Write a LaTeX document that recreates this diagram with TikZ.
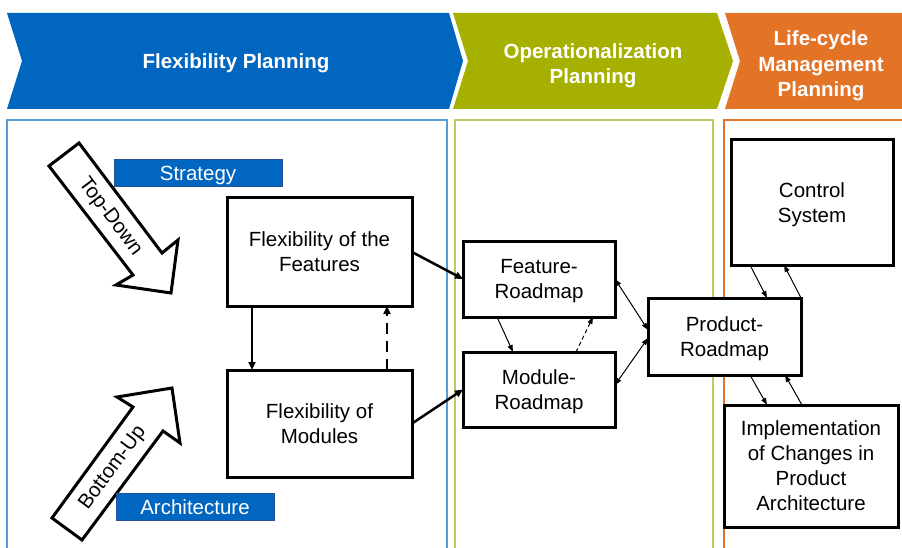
\documentclass[tikz,border=0pt]{standalone}
\usepackage{fontspec}
\setmainfont{Liberation Sans}
\usetikzlibrary{arrows.meta,positioning}
\definecolor{flexblue}{RGB}{0,102,191}
\definecolor{opgreen}{RGB}{166,176,0}
\definecolor{lcorange}{RGB}{227,115,38}
\definecolor{frameblue}{RGB}{91,155,213}
\definecolor{framegreen}{RGB}{192,200,100}
\definecolor{tagedge}{RGB}{40,82,150}

\begin{document}
\begin{tikzpicture}[x=1pt, y=-1pt,
  font=\fontsize{20.5}{25}\selectfont,
  box/.style={draw, line width=3pt, fill=white, align=center, inner sep=0pt, outer sep=0pt,
              text depth=0pt},
  tag/.style={draw=tagedge, fill=flexblue, text=white, line width=1pt, inner sep=0pt,
              outer sep=0pt, minimum height=27pt, text height=14.7pt, text depth=0pt},
  phase/.style={text=white, font=\fontsize{20.5}{25.5}\selectfont\bfseries, align=center},
  blockarr/.style={draw, line width=3pt, fill=white},
  frame/.style={line width=1.2pt},
  thickarr/.style={-{Triangle[length=8pt,width=7pt]}, line width=2.5pt},
  thinarr/.style={-{Triangle[length=7pt,width=5pt]}, line width=1pt},
  dblarr/.style={{Triangle[length=7pt,width=5pt]}-{Triangle[length=7pt,width=5pt]}, line width=1pt}]
\useasboundingbox (0,0) rectangle (902,548);
% phase headers
\fill[flexblue] (7,13) -- (449,13) -- (463,61) -- (449,109) -- (7,109) -- (22,61) -- cycle;
\fill[opgreen] (453,13) -- (717,13) -- (733,61) -- (717,109) -- (453,109) -- (468,61) -- cycle;
\fill[lcorange] (725,13) -- (902,13) -- (902,109) -- (725,109) -- (740,61) -- cycle;
\node[phase] (hflex) at (236,63) {Flexibility Planning};
\node[phase] (hop) at (593,65.5) {Operationalization\\Planning};
\node[phase] (hlc) at (821,66) {Life-cycle\\Management\\Planning};
% column frames
\draw[frame, frameblue] (7,548) |- (447,120) -- (447,548);
\draw[frame, framegreen] (455,548) |- (713,120) -- (713,548);
\draw[frame, lcorange] (724,548) |- (902,120);
% top-down / bottom-up
\draw[blockarr] (79,143) -- (162,253) -- (178,240) -- (171,293) -- (116,285) -- (133,275) -- (49,166) -- cycle;
\node[rotate=-53] (td) at (110,217) {Top-Down};
\draw[blockarr] (82,540) -- (163,431) -- (180,443) -- (172,388) -- (117,397) -- (133,407) -- (52,518) -- cycle;
\node[rotate=53.5] (bu) at (113,468) {Bottom-Up};
\node[tag, minimum width=168pt] (strat) at (198,173.5) {Strategy};
\node[tag, minimum width=158pt] (arch) at (195,507) {Architecture};
% boxes
\node[box, minimum width=185pt, minimum height=108pt] (feat) at (319.5,252) {Flexibility of the\\Features};
\node[box, minimum width=185pt, minimum height=107pt, below=64pt of feat] (mod) {Flexibility of\\Modules};
\node[box, minimum width=152pt, minimum height=76pt] (froad) at (539,279) {Feature-\\Roadmap};
\node[box, minimum width=152pt, minimum height=75pt, below=35pt of froad] (mroad) {Module-\\Roadmap};
\node[box, minimum width=153pt, minimum height=77pt] (prod) at (724.5,336.5) {Product-\\Roadmap};
\node[box, minimum width=162pt, minimum height=125pt] (ctrl) at (812,202.5) {Control\\System};
\node[box, minimum width=174pt, minimum height=122pt] (impl) at (811,466) {Implementation\\of Changes in\\Product\\Architecture};
% connectors
\draw[thickarr] ([xshift=-67.5pt]feat.south) -- ([xshift=-67.5pt]mod.north);
\draw[thickarr, dash pattern=on 11pt off 7pt] ([xshift=67.5pt]mod.north) -- ([xshift=67.5pt]feat.south);
\draw[thickarr] (feat.east) -- (froad.west); \draw[thickarr] (mod.east) -- (mroad.west);
\draw[thinarr] ([xshift=-42pt]froad.south) -- ([xshift=-26pt]mroad.north);
\draw[thinarr, dash pattern=on 4pt off 3pt] ([xshift=37pt]mroad.north) -- ([xshift=54pt]froad.south);
\draw[dblarr] (froad.east) -- ([yshift=6.5pt]prod.west);
\draw[dblarr] ([yshift=4.5pt]mroad.east) -- ([yshift=-1.5pt]prod.west);
\draw[thinarr] ([xshift=-62pt]ctrl.south) -- ([xshift=42.5pt]prod.north);
\draw[thinarr] ([xshift=76.5pt]prod.north) -- ([xshift=-28pt]ctrl.south);
\draw[thinarr] ([xshift=25.5pt]prod.south) -- ([xshift=-44pt]impl.north);
\draw[thinarr] ([xshift=-9pt]impl.north) -- ([xshift=60.5pt]prod.south);
\end{tikzpicture}
\end{document}
